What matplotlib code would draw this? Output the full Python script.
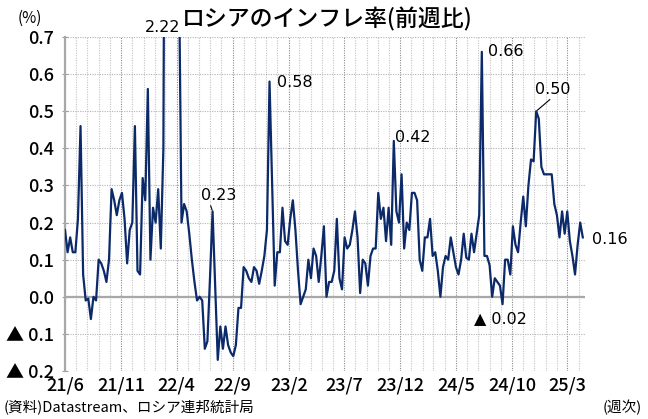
import numpy as np
import pandas as pd
import matplotlib
matplotlib.use("Agg")
import matplotlib.pyplot as plt
import matplotlib.dates as mdates
from matplotlib.ticker import FixedLocator, FuncFormatter

plt.rcParams['font.family'] = ['Noto Sans CJK JP', 'DejaVu Sans']

# ---------------- data (weekly, % w/w) ----------------
values = [
    0.18, 0.12, 0.16, 0.12, 0.12, 0.21, 0.46, 0.06, -0.01, -0.005,
    -0.06, 0.00, -0.01, 0.10, 0.09, 0.07, 0.04, 0.10, 0.29, 0.26,
    0.22, 0.26, 0.28, 0.21, 0.09, 0.18, 0.20, 0.46, 0.07, 0.06,
    0.32, 0.26, 0.56, 0.10,
    0.24, 0.20, 0.29, 0.13, 0.40, 2.22, 2.13, 1.93, 0.99, 0.99,
    0.90, 0.20, 0.25, 0.23, 0.17, 0.10, 0.04, -0.01, 0.00, -0.01,
    -0.14, -0.12, 0.05, 0.23, 0.03, -0.17,
    -0.08, -0.14, -0.08, -0.13, -0.15, -0.16, -0.13, -0.03, -0.03, 0.08,
    0.07, 0.05, 0.04, 0.08, 0.07, 0.035, 0.07, 0.11, 0.18, 0.58,
    0.30, 0.03, 0.12, 0.12, 0.24, 0.15, 0.14, 0.21, 0.26, 0.18,
    0.07, -0.02, 0.00, 0.02, 0.10, 0.05, 0.13, 0.11, 0.04, 0.11,
    0.19, 0.00, 0.04,
    0.04, 0.07, 0.21, 0.05, 0.02, 0.16, 0.13, 0.14, 0.18, 0.23,
    0.16, 0.01, 0.10, 0.09, 0.03, 0.11, 0.13, 0.13, 0.28, 0.21,
    0.24, 0.15, 0.24, 0.14, 0.42, 0.23, 0.20, 0.33, 0.13, 0.20,
    0.18, 0.28, 0.28, 0.26, 0.10, 0.07, 0.16, 0.16, 0.21, 0.11,
    0.12, 0.07, 0.00, 0.08,
    0.11, 0.10, 0.16, 0.12, 0.08, 0.06, 0.10, 0.17, 0.105, 0.10,
    0.17, 0.12, 0.17, 0.22, 0.66,
    0.11, 0.11, 0.085, 0.00, 0.05, 0.04, 0.03, -0.02, 0.10, 0.10,
    0.06, 0.19, 0.14, 0.12, 0.20, 0.27, 0.19, 0.30, 0.37, 0.365,
    0.50, 0.48, 0.35, 0.33, 0.33, 0.33, 0.33, 0.25, 0.22, 0.16,
    0.23, 0.17, 0.23, 0.15, 0.11, 0.06, 0.14, 0.20, 0.16,
]
start_date = "2021-06-01"
end_date = "2025-04-12"
dates = pd.date_range(start_date, end_date, periods=len(values))

tick_labels = ["21/6", "21/11", "22/4", "22/9", "23/2", "23/7",
               "23/12", "24/5", "24/10", "25/3"]
tick_dates = [pd.Timestamp(year=2000 + int(t.split("/")[0]),
                           month=int(t.split("/")[1]), day=1) for t in tick_labels]

# annotated points: label -> index
ann_list = {
    "2.22": values.index(2.22),
    "0.23": 57,
    "0.58": values.index(0.58),
    "0.42": values.index(0.42),
    "0.66": values.index(0.66),
    "0.50": values.index(0.50),
    "▲ 0.02": 169,
    "0.16": len(values) - 1,
}

# ---------------- figure ----------------
W, H = 648, 419
fig = plt.figure(figsize=(W / 100, H / 100), dpi=100)
ax = fig.add_axes([65 / W, 1 - 371 / H, (585 - 65) / W, (371 - 37) / H])

line_color = "#0c2a6a"
ax.plot(dates, values, color=line_color, lw=1.6, zorder=3, clip_on=True)

ax.set_ylim(-0.2, 0.7)
ax.set_xlim(pd.Timestamp("2021-06-01"), pd.Timestamp("2025-04-18"))

# y ticks
yt = np.round(np.arange(-0.2, 0.701, 0.1), 1)
ax.yaxis.set_major_locator(FixedLocator(yt))
ax.yaxis.set_major_formatter(FuncFormatter(
    lambda v, p: ("▲ %.1f" % abs(v)) if v < -1e-9 else "%.1f" % abs(v)))

# x ticks
ax.set_xticks(tick_dates)
ax.set_xticklabels(tick_labels)
ax.xaxis.set_minor_locator(mdates.MonthLocator())

ax.tick_params(axis="y", which="major", length=4, direction="inout",
               color="#a0a0a0", labelsize=13, pad=6)
ax.tick_params(axis="x", which="both", length=0, labelsize=13, pad=4)
for lab in ax.get_xticklabels() + ax.get_yticklabels():
    lab.set_fontweight("medium")

# grid
ax.grid(axis="x", which="minor", color="#c4c4c4", ls=(0, (1, 1.2)), lw=0.8)
ax.grid(axis="x", which="major", color="#8a8a8a", ls=(0, (1, 1.2)), lw=0.8)
ax.grid(axis="y", which="major", color="#b4b4b4", ls=(0, (1, 1.2)), lw=0.8)
ax.axhline(0, color="#a8a8a8", lw=1.6, zorder=2)

for s in ["top", "right", "bottom"]:
    ax.spines[s].set_visible(False)
ax.spines["left"].set_color("#a8a8a8")
ax.spines["left"].set_linewidth(1.6)

# annotations
afont = dict(family="DejaVu Sans", fontsize=11.5, color="black")
pt = 0.72  # points per pixel

def ann(label, dx, dy, ha="left", va="center", arrow=False, relpos=(0.5, 0.5)):
    i = ann_list[label]
    yv = min(values[i], 0.7)
    kw = {}
    if arrow:
        kw["arrowprops"] = dict(arrowstyle="-", color="black", lw=0.8,
                                shrinkA=0, shrinkB=1, relpos=relpos)
    ax.annotate(label, xy=(dates[i], yv), xytext=(dx * pt, dy * pt),
                textcoords="offset points", ha=ha, va=va,
                annotation_clip=False, zorder=5, **afont, **kw)

ann("2.22", -3, 10, ha="center")
ann("0.23", 6, 16, ha="center", va="center", arrow=True, relpos=(0.25, 0.0))
ann("0.58", 7, -1)
ann("0.42", 1, 3)
ann("0.66", 6, 0)
ann("0.50", 17, 22, ha="center", arrow=True, relpos=(0.5, 0.0))
ann("▲ 0.02", -29, -14)
ann("0.16", 9, -2)

# texts
fig.text(327 / W, 1 - 19 / H, "ロシアのインフレ率(前週比)", ha="center",
         va="center", fontsize=16.5, fontweight="medium")
fig.text(30 / W, 1 - 18 / H, "(%)", ha="center", va="center", fontsize=11)
fig.text(4 / W, 1 - 407 / H, "(資料)Datastream、ロシア連邦統計局", ha="left",
         va="center", fontsize=10.5)
fig.text(642 / W, 1 - 407 / H, "(週次)", ha="right", va="center", fontsize=10.5)

fig.savefig("out.png", dpi=100)
